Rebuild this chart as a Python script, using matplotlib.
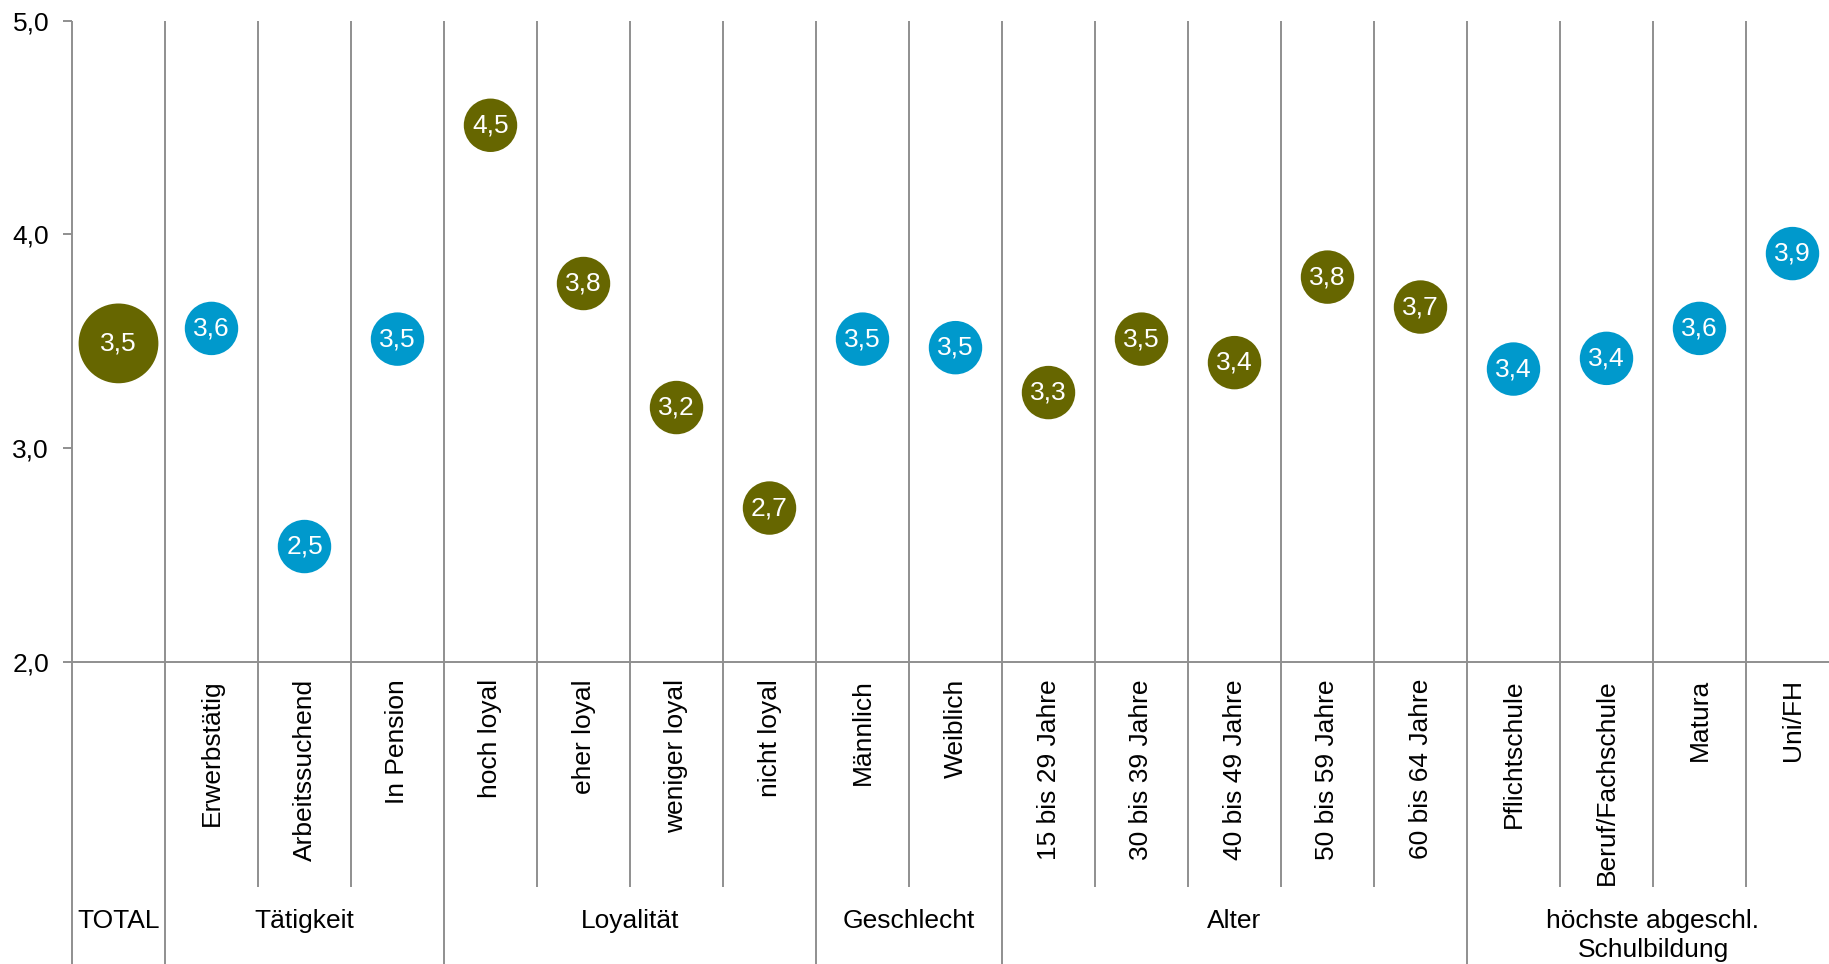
import numpy as np
import matplotlib.pyplot as plt

plt.rcParams['font.family'] = ['Liberation Sans', 'DejaVu Sans']

# mean scores per subgroup
categories = ['TOTAL', 'Erwerbstätig', 'Arbeitssuchend', 'In Pension',
              'hoch loyal', 'eher loyal', 'weniger loyal', 'nicht loyal',
              'Männlich', 'Weiblich',
              '15 bis 29 Jahre', '30 bis 39 Jahre', '40 bis 49 Jahre',
              '50 bis 59 Jahre', '60 bis 64 Jahre',
              'Pflichtschule', 'Beruf/Fachschule', 'Matura', 'Uni/FH']
values = [3.49, 3.56, 2.54, 3.51,
          4.51, 3.77, 3.19, 2.72,
          3.51, 3.47,
          3.26, 3.51, 3.40, 3.80, 3.66,
          3.37, 3.42, 3.56, 3.91]
groups = ['TOTAL', 'Tätigkeit', 'Loyalität', 'Geschlecht', 'Alter',
          'höchste abgeschl.\nSchulbildung']
group_sizes = [1, 3, 4, 2, 5, 4]
yticks = [2.0, 3.0, 4.0, 5.0]

OLIVE = '#666600'
BLUE = '#0099cc'
GRID = '#8f8f8f'
FS = 19

fig = plt.figure(figsize=(18.29, 9.64), dpi=100)
ax = fig.add_axes([72 / 1829, (964 - 662) / 964, 1767 / 1829, 641.5 / 964])
n = len(categories)
ax.set_xlim(0, n)
ax.set_ylim(2, 5)

x = np.arange(n) + 0.5
bounds = np.concatenate([[0], np.cumsum(group_sizes)])

# colour alternates by group, TOTAL bubble drawn larger
colors = []
sizes = []
for gi, gs in enumerate(group_sizes):
    colors += [OLIVE if gi % 2 == 0 else BLUE] * gs
    sizes += [3300 if gi == 0 else 1480] * gs

# grid lines: short ones inside groups, long ones at group borders
inner = [i for i in range(1, n) if i not in bounds]
ax.vlines(inner, 0.946, 5, color=GRID, lw=1.4, clip_on=False, zorder=1)
ax.vlines(bounds, 0.4, 5, color=GRID, lw=1.4, clip_on=False, zorder=1)
ax.hlines(2, 0, n, color=GRID, lw=1.4, clip_on=False, zorder=1)

ax.scatter(x, values, s=sizes, c=colors, linewidths=0, zorder=3)
for xi, v in zip(x, values):
    ax.text(xi, v, f'{v:.1f}'.replace('.', ','), ha='center', va='center',
            color='white', fontsize=FS, zorder=4)

for xi, lab in zip(x[1:], categories[1:]):
    ax.text(xi, 1.92, lab, rotation=90, ha='center', va='top', fontsize=FS)

for g, a, b in zip(groups, bounds[:-1], bounds[1:]):
    ax.text((a + b) / 2, 0.845, g, ha='center', va='top', fontsize=FS,
            linespacing=1.28)

for s in ax.spines.values():
    s.set_visible(False)
ax.set_xticks([])
ax.set_yticks(yticks)
ax.set_yticklabels([f'{t:.1f}'.replace('.', ',') for t in yticks], fontsize=FS)
ax.tick_params(axis='y', length=6.5, width=1.4, color=GRID, pad=10)

fig.savefig('out.png', dpi=100)
